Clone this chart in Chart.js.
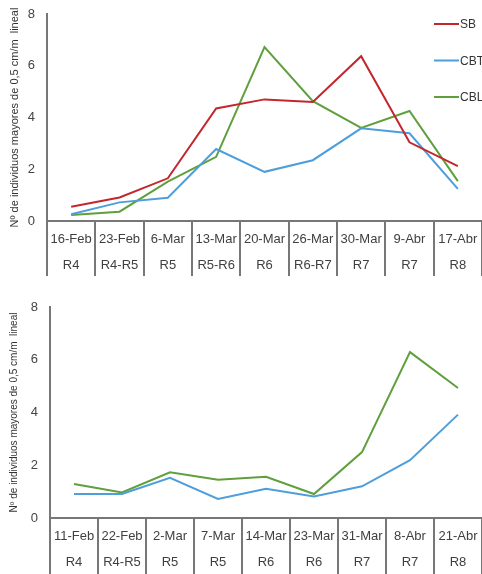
<!DOCTYPE html>
<html><head><meta charset="utf-8">
<script src="https://cdn.jsdelivr.net/npm/chart.js@4"></script>
<style>
html,body{margin:0;padding:0;background:#fff;}
canvas{display:block;}
</style></head>
<body>
<canvas id="c1" width="482" height="287"></canvas>
<canvas id="c2" width="482" height="287"></canvas>
<script>
const datesTop = ['16-Feb','23-Feb','6-Mar','13-Mar','20-Mar','26-Mar','30-Mar','9-Abr','17-Abr'];
const stagesTop = ['R4','R4-R5','R5','R5-R6','R6','R6-R7','R7','R7','R8'];
const sbTop  = [0.55, 0.91, 1.65, 4.35, 4.70, 4.60, 6.37, 3.04, 2.12];
const cbtTop = [0.26, 0.72, 0.90, 2.78, 1.90, 2.35, 3.58, 3.39, 1.24];
const cblTop = [0.23, 0.36, 1.52, 2.48, 6.72, 4.63, 3.60, 4.25, 1.54];

const datesBot = ['11-Feb','22-Feb','2-Mar','7-Mar','14-Mar','23-Mar','31-Mar','8-Abr','21-Abr'];
const stagesBot = ['R4','R4-R5','R5','R5','R6','R6','R7','R7','R8'];
const cbtBot = [0.91, 0.91, 1.52, 0.72, 1.11, 0.82, 1.20, 2.19, 3.92];
const cblBot = [1.29, 0.97, 1.73, 1.45, 1.56, 0.91, 2.50, 6.29, 4.93];

const yTicks = [0, 2, 4, 6, 8];
const yTitle = 'Nº de individuos mayores de 0,5 cm/m  lineal';

const RED = '#c3272d', BLUE = '#4e9edb', GREEN = '#5f9f3d';
const AXIS = '#777777';
const FONT = "'Liberation Sans', Arial, sans-serif";

const legendPlugin = {
  id: 'sideLegend',
  afterDraw(chart, args, opts) {
    if (!opts.show) return;
    const ctx = chart.ctx;
    ctx.save();
    chart.data.datasets.forEach((ds, i) => {
      const y = 24 + i * 36.5;
      ctx.strokeStyle = ds.borderColor;
      ctx.lineWidth = 2;
      ctx.beginPath(); ctx.moveTo(434, y); ctx.lineTo(459, y); ctx.stroke();
      ctx.fillStyle = '#333';
      ctx.font = '12px ' + FONT;
      ctx.textBaseline = 'middle';
      ctx.textAlign = 'left';
      ctx.fillText(ds.label, 460, y + 1);
    });
    ctx.restore();
  }
};

function makeChart(id, dates, stages, datasets, cfg) {
  const labels = dates.map((d, i) => [d, stages[i]]);
  return new Chart(document.getElementById(id), {
    type: 'line',
    data: { labels, datasets: datasets.map(d => ({
      label: d.label, data: d.data, borderColor: d.color, backgroundColor: d.color,
      borderWidth: 2, pointRadius: 0, tension: 0, fill: false
    })) },
    options: {
      responsive: false, animation: false, devicePixelRatio: 1,
      layout: { padding: { top: cfg.top, right: 0, bottom: 0, left: 0 } },
      plugins: { legend: { display: false }, tooltip: { enabled: false },
                 sideLegend: { show: cfg.legend } },
      scales: {
        x: {
          type: 'category', offset: true,
          grid: { offset: true, drawOnChartArea: false, drawTicks: true,
                  tickLength: cfg.tickLen, color: AXIS, lineWidth: 2 },
          border: { display: true, color: AXIS, width: 2 },
          ticks: { font: { family: FONT, size: 13, lineHeight: 2.07 }, color: '#404040',
                   padding: 4.5 - cfg.tickLen, maxRotation: 0, autoSkip: false },
          afterFit(s) { s.height = cfg.xh; s.paddingLeft = 0; s.paddingRight = 0; }
        },
        y: {
          min: 0, max: 8,
          afterBuildTicks(s) { s.ticks = yTicks.map(v => ({ value: v })); },
          grid: { display: false, drawTicks: false },
          border: { display: true, color: AXIS, width: 2 },
          ticks: { font: { family: FONT, size: 13 }, color: '#444', padding: 12 },
          title: { display: true, text: yTitle, font: { family: FONT, size: cfg.titleSize }, color: '#333',
                   padding: { top: 8, bottom: 0 } },
          afterFit(s) { s.width = cfg.yw; s.paddingTop = 0; s.paddingBottom = 0; }
        }
      }
    },
    plugins: [legendPlugin]
  });
}

makeChart('c1', datesTop, stagesTop, [
  { label: 'SB', data: sbTop, color: RED },
  { label: 'CBT', data: cbtTop, color: BLUE },
  { label: 'CBL', data: cblTop, color: GREEN }
], { top: 14, xh: 66, yw: 47, tickLen: 55, legend: true, titleSize: 11 });

makeChart('c2', datesBot, stagesBot, [
  { label: 'CBT', data: cbtBot, color: BLUE },
  { label: 'CBL', data: cblBot, color: GREEN }
], { top: 20, xh: 56, yw: 50, tickLen: 56, legend: false, titleSize: 10 });
</script>
</body></html>
